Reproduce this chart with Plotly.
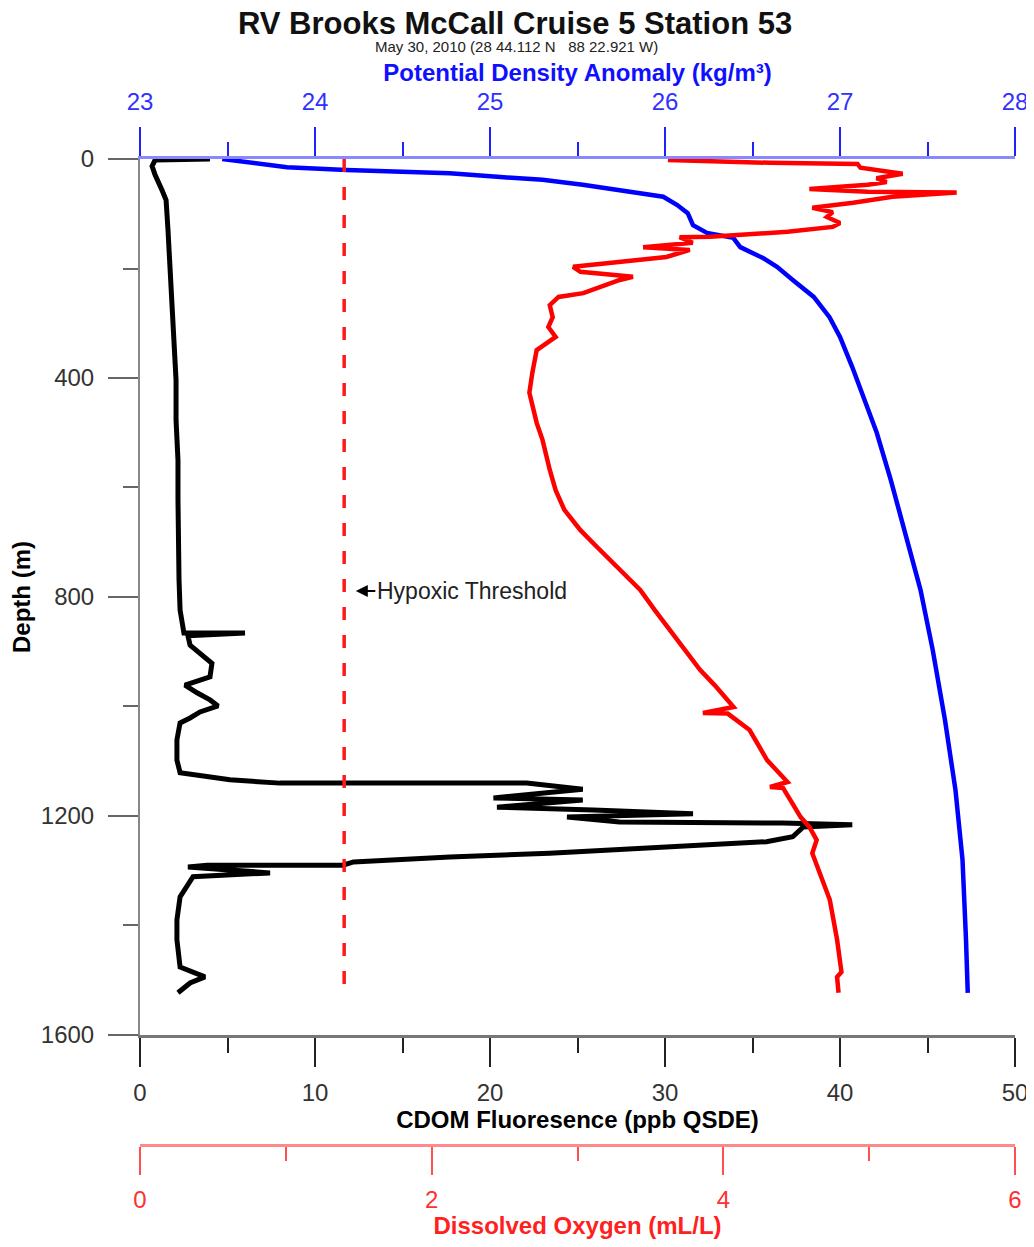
import plotly.graph_objects as go

# CDOM fluorescence profile (ppb QSDE) vs depth (m)
cdom_val = [4.0, 0.86, 0.69, 0.86, 1.26, 1.49, 1.6, 1.71, 1.83, 1.94, 2.06, 2.06, 2.17, 2.17,
            2.17, 2.23, 2.29, 2.4, 2.51, 6.0, 2.74, 2.86, 3.43, 4.11, 4.0, 2.57, 3.26, 4.0,
            4.46, 3.43, 2.86, 2.29, 2.11, 2.11, 2.29, 3.26, 5.14, 8.0, 22.1, 25.3, 20.2, 25.3,
            20.4, 25.9, 31.6, 24.4, 27.4, 36.7, 40.7, 37.9, 37.3, 35.8, 29.1, 23.4, 17.7, 12.2,
            11.6, 3.83, 2.74, 7.43, 3.03, 2.29, 2.11, 2.11, 2.29, 3.71, 2.86, 2.17]
cdom_depth = [0, 2, 13, 29, 57, 75, 130, 203, 258, 331, 404, 477, 550, 623,
              695, 769, 824, 851, 866, 866, 871, 888, 902, 921, 946, 961, 975, 988,
              999, 1010, 1021, 1030, 1061, 1098, 1121, 1125, 1134, 1140, 1140, 1151, 1167, 1171,
              1184, 1189, 1196, 1202, 1211, 1213, 1216, 1220, 1238, 1247, 1258, 1268, 1275, 1284,
              1290, 1290, 1293, 1304, 1311, 1348, 1390, 1426, 1476, 1494, 1505, 1523]

# potential density anomaly (kg/m3) vs depth
sigma_val = [23.47, 23.61, 23.84, 24.18, 24.77, 25.06, 25.30, 25.53, 25.82, 25.99, 26.07, 26.13,
             26.16, 26.24, 26.39, 26.43, 26.56, 26.64, 26.73, 26.85, 26.94, 27.0, 27.07, 27.15,
             27.21, 27.29, 27.37, 27.46, 27.53, 27.60, 27.66, 27.70, 27.72, 27.73]
sigma_depth = [0, 5, 15, 20, 26, 33, 38, 47, 60, 69, 84, 99,
               121, 135, 144, 161, 181, 197, 221, 252, 289, 325, 380, 446,
               500, 586, 678, 787, 897, 1025, 1153, 1280, 1426, 1523]

# dissolved oxygen (mL/L) vs depth
do_val = [3.62, 4.32, 4.92, 4.94, 5.23, 5.05, 5.12, 4.99, 4.59, 4.99, 5.60, 5.16, 4.89, 4.61,
          4.75, 4.71, 4.80, 4.75, 4.44, 4.07, 3.91, 3.70, 3.79, 3.45, 3.77, 3.61, 3.43, 2.97,
          3.02, 3.24, 3.38, 3.29, 3.04, 2.87, 2.81, 2.83, 2.80, 2.85, 2.72, 2.69, 2.67, 2.72,
          2.76, 2.81, 2.85, 2.91, 3.02, 3.12, 3.22, 3.33, 3.43, 3.53, 3.63, 3.74, 3.84, 3.94,
          4.03, 4.07, 3.86, 4.03, 4.09, 4.18, 4.30, 4.44, 4.32, 4.41, 4.46, 4.53, 4.59, 4.64,
          4.61, 4.68, 4.73, 4.78, 4.81, 4.78, 4.79]
do_depth = [2, 7, 9, 16, 27, 35, 42, 47, 55, 60, 61, 69, 80, 89,
            97, 106, 117, 124, 133, 139, 142, 143, 153, 161, 166, 179, 184, 197,
            206, 212, 215, 221, 245, 252, 267, 289, 307, 325, 349, 391, 427, 482,
            513, 568, 605, 641, 678, 705, 732, 760, 787, 824, 860, 897, 933, 961,
            988, 1001, 1012, 1013, 1025, 1043, 1098, 1138, 1147, 1149, 1171, 1202, 1220, 1244,
            1268, 1317, 1353, 1426, 1485, 1494, 1523]

hypoxic_do = [1.4, 1.4]
hypoxic_depth = [0, 1518]

FONT = "Liberation Sans, Arial"

fig = go.Figure()

fig.add_trace(go.Scatter(x=cdom_val, y=cdom_depth, mode="lines", xaxis="x", yaxis="y",
                         line=dict(color="black", width=5), showlegend=False))
fig.add_trace(go.Scatter(x=hypoxic_do, y=hypoxic_depth, mode="lines", xaxis="x3", yaxis="y",
                         line=dict(color="#ff1a1a", width=3.5, dash="13px,15px"), showlegend=False))
fig.add_trace(go.Scatter(x=do_val, y=do_depth, mode="lines", xaxis="x3", yaxis="y",
                         line=dict(color="#ff0000", width=4.5), showlegend=False))
fig.add_trace(go.Scatter(x=sigma_val, y=sigma_depth, mode="lines", xaxis="x2", yaxis="y",
                         line=dict(color="#0000ff", width=4.5), showlegend=False))

# page body has an 8px margin, so the figure is a bit smaller than the window
fig.update_layout(
    width=1022, height=1231,
    margin=dict(l=132, r=15, t=151, b=94),
    plot_bgcolor="white", paper_bgcolor="white",
    yaxis=dict(
        domain=[0.1116, 1], range=[1600, 0], tickvals=[0, 400, 800, 1200, 1600], automargin=False,
        ticks="outside", ticklen=30, tickwidth=1.5, tickcolor="#666",
        minor=dict(dtick=200, ticks="outside", ticklen=15, tickcolor="#666", tickwidth=1.5),
        showline=True, linecolor="#888", linewidth=2, showgrid=False, zeroline=False,
        tickfont=dict(family=FONT, size=24, color="#333"), ticklabelstandoff=9,
        title=dict(text="<b>Depth (m)</b>", font=dict(family=FONT, size=24, color="black"), standoff=26),
    ),
    xaxis=dict(
        range=[0, 50], tickvals=[0, 10, 20, 30, 40, 50], anchor="y", side="bottom", automargin=False,
        ticks="outside", ticklen=29, tickwidth=1.5, tickcolor="#222",
        minor=dict(dtick=5, ticks="outside", ticklen=15, tickcolor="#222", tickwidth=1.5),
        showline=True, linecolor="#777", linewidth=3, showgrid=False, zeroline=False,
        tickfont=dict(family=FONT, size=24, color="#333"), ticklabelstandoff=5,
        ticklabeloverflow="allow",
        title=dict(text="<b>CDOM Fluoresence (ppb QSDE)</b>", font=dict(family=FONT, size=24, color="black"), standoff=4),
    ),
    xaxis2=dict(
        range=[23, 28], tickvals=[23, 24, 25, 26, 27, 28], overlaying="x", anchor="y", side="top",
        automargin=False,
        ticks="outside", ticklen=29, tickwidth=1.5, tickcolor="#2020ff",
        minor=dict(dtick=0.5, ticks="outside", ticklen=14, tickcolor="#2020ff", tickwidth=1.5),
        showline=True, linecolor="rgba(40,40,255,0.55)", linewidth=2.5, showgrid=False, zeroline=False,
        tickfont=dict(family=FONT, size=24, color="#3030ff"), ticklabelstandoff=8,
        ticklabeloverflow="allow",
        title=dict(text="<b>Potential Density Anomaly (kg/m³)</b>", font=dict(family=FONT, size=24, color="#1010ff"), standoff=0),
    ),
    xaxis3=dict(
        range=[0, 6], tickvals=[0, 2, 4, 6], overlaying="x", anchor="free", position=0, side="bottom",
        automargin=False,
        ticks="outside", ticklen=28, tickwidth=1.5, tickcolor="#ff5050",
        minor=dict(dtick=1, ticks="outside", ticklen=14, tickcolor="#ff5050", tickwidth=1.5),
        showline=True, linecolor="rgba(255,60,60,0.6)", linewidth=2.5, showgrid=False, zeroline=False,
        tickfont=dict(family=FONT, size=24, color="#ff3030"), ticklabelstandoff=4,
        ticklabeloverflow="allow",
        title=dict(text="<b>Dissolved Oxygen (mL/L)</b>", font=dict(family=FONT, size=24, color="#ff2020"), standoff=8),
    ),
)

fig.add_annotation(text="<b>RV Brooks McCall Cruise 5 Station 53</b>", xref="paper", yref="paper",
                   x=0.429, y=1.1379, yanchor="middle", showarrow=False,
                   font=dict(family=FONT, size=31, color="#111"))
fig.add_annotation(text="May 30, 2010 (28 44.112 N   88 22.921 W)", xref="paper", yref="paper",
                   x=0.430, y=1.1136, yanchor="middle", showarrow=False,
                   font=dict(family=FONT, size=15, color="#222"))
fig.add_annotation(text="Hypoxic Threshold", xref="x3", yref="y", x=1.48, y=789,
                   showarrow=True, ax=116, ay=0, arrowhead=2, arrowsize=1.2, arrowwidth=2,
                   arrowcolor="black", font=dict(family=FONT, size=23, color="#222"))

fig.write_html("out.html")
